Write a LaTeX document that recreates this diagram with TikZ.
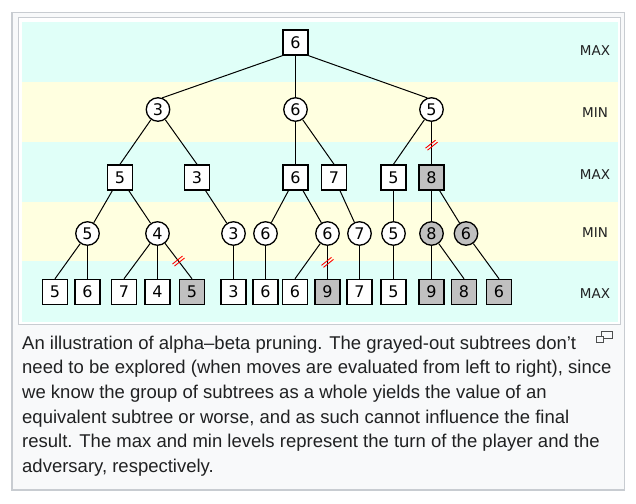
\documentclass[tikz,border=0pt]{standalone}
\usepackage{fontspec}
\usepackage{xcolor}
\usepackage{tikz}
\usetikzlibrary{positioning}
\newfontfamily\treefont{DejaVu Sans}
\newfontfamily\notefont{Liberation Sans}
\definecolor{bandcyan}{HTML}{E0FFF8}
\definecolor{bandyellow}{HTML}{FFFFE0}
\definecolor{prunegray}{HTML}{C0C0C0}
\definecolor{frameline}{HTML}{C8CCD1}
\definecolor{framefill}{HTML}{F8F9FA}
\definecolor{notetext}{HTML}{202122}
\tikzset{
  prunepicture/.style={x=1pt, y=-1pt},
  prunemax/.style={draw, line width=1.3pt, fill=white, minimum size=25.2pt, inner sep=0pt, font=\treefont\fontsize{16}{16}\selectfont},
  prunemin/.style={circle, draw, line width=1.3pt, fill=white, minimum size=23.5pt, inner sep=0pt, font=\treefont\fontsize{16}{16}\selectfont},
  prunemaxoff/.style={prunemax, fill=prunegray},
  pruneminoff/.style={prunemin, fill=prunegray},
  prunelevel/.style={inner sep=0pt, text=notetext, font=\treefont\fontsize{13.5}{13.5}\selectfont},
  prunelink/.style={line width=1pt},
  prunenote/.style={anchor=base west, inner sep=0pt, text=notetext, font=\notefont\fontsize{18.5}{24.7}\selectfont},
  prunecut/.pic={\draw[red, line width=0.9pt] (-6,3) -- (4,-5) (-4,5) -- (6,-3);}
}

\begin{document}
\begin{tikzpicture}[prunepicture]
\useasboundingbox (0,0) rectangle (636,503);
% frame and level bands
\draw[frameline, fill=framefill, line width=1.2pt] (12,12.5) rectangle (624.5,490);
\draw[frameline, fill=white, line width=1pt] (18,18) rectangle (620,324);
\fill[bandcyan] (22,22) rectangle (618,82);
\fill[bandyellow] (22,82) rectangle (618,142);
\fill[bandcyan] (22,142) rectangle (618,202);
\fill[bandyellow] (22,202) rectangle (618,261);
\fill[bandcyan] (22,261) rectangle (618,322);

% level labels
\node[prunelevel] (lev0) at (595,51) {MAX};
\node[prunelevel] (lev1) at (595,113) {MIN};
\node[prunelevel] (lev2) at (595,175) {MAX};
\node[prunelevel] (lev3) at (595,233) {MIN};
\node[prunelevel] (lev4) at (595,294) {MAX};

% tree
\node[prunemax] (n0) at (295.5,42.5) {6};

\node[prunemin] (n1a) at (158,109.5) {3};
\node[prunemin] (n1b) at (295.5,109.5) {6};
\node[prunemin] (n1c) at (431.5,109.5) {5};

\node[prunemax] (n2a) at (120,177.5) {5};
\node[prunemax] (n2b) at (197,177.5) {3};
\node[prunemax] (n2c) at (295.5,177.5) {6};
\node[prunemax] (n2d) at (334,177.5) {7};
\node[prunemax] (n2e) at (393.5,177.5) {5};
\node[prunemaxoff] (n2f) at (431.5,177.5) {8};

\node[prunemin] (n3a) at (87.5,233.5) {5};
\node[prunemin] (n3b) at (157.5,233.5) {4};
\node[prunemin] (n3c) at (233.5,233.5) {3};
\node[prunemin] (n3d) at (265.5,233.5) {6};
\node[prunemin] (n3e) at (327.5,233.5) {6};
\node[prunemin] (n3f) at (359.5,233.5) {7};
\node[prunemin] (n3g) at (393.5,233.5) {5};
\node[pruneminoff] (n3h) at (431.5,233.5) {8};
\node[pruneminoff] (n3i) at (466,233.5) {6};

\node[prunemax] (n4a) at (55,292) {5};
\node[prunemax] (n4b) at (87.5,292) {6};
\node[prunemax] (n4c) at (124,292) {7};
\node[prunemax] (n4d) at (157.5,292) {4};
\node[prunemaxoff] (n4e) at (192,292) {5};
\node[prunemax] (n4f) at (233.5,292) {3};
\node[prunemax] (n4g) at (265.5,292) {6};
\node[prunemax] (n4h) at (295,292) {6};
\node[prunemaxoff] (n4i) at (327.5,292) {9};
\node[prunemax] (n4j) at (359.5,292) {7};
\node[prunemax] (n4k) at (393.5,292) {5};
\node[prunemaxoff] (n4l) at (431.5,292) {9};
\node[prunemaxoff] (n4m) at (464,292) {8};
\node[prunemaxoff] (n4n) at (499,292) {6};

\draw[prunelink] (n0.south west) -- (n1a.70);
\draw[prunelink] (n0) -- (n1b);
\draw[prunelink] (n0.south east) -- (n1c.110);

\draw[prunelink] (n1a) -- (n2a.north);
\draw[prunelink] (n1a) -- (n2b.north);
\draw[prunelink] (n1b) -- (n2c.north);
\draw[prunelink] (n1b) -- (n2d.north);
\draw[prunelink] (n1c) -- (n2e.north);
\draw[prunelink] (n1c) -- coordinate[pos=0.55] (cut1) (n2f.north);

\draw[prunelink] (n2a) -- (n3a);
\draw[prunelink] (n2a) -- (n3b);
\draw[prunelink] (n2b) -- (n3c);
\draw[prunelink] (n2c) -- (n3d);
\draw[prunelink] (n2c) -- (n3e);
\draw[prunelink] (n2d) -- (n3f);
\draw[prunelink] (n2e) -- (n3g);
\draw[prunelink] (n2f) -- (n3h);
\draw[prunelink] (n2f) -- (n3i);

\draw[prunelink] (n3a) -- (n4a.north);
\draw[prunelink] (n3a) -- (n4b.north);
\draw[prunelink] (n3b) -- (n4c.north);
\draw[prunelink] (n3b) -- (n4d.north);
\draw[prunelink] (n3b) -- coordinate[pos=0.5] (cut2) (n4e.north);
\draw[prunelink] (n3c) -- (n4f.north);
\draw[prunelink] (n3d) -- (n4g.north);
\draw[prunelink] (n3e) -- (n4h.north);
\draw[prunelink] (n3e) -- coordinate[pos=0.5] (cut3) (n4i.north);
\draw[prunelink] (n3f) -- (n4j.north);
\draw[prunelink] (n3g) -- (n4k.north);
\draw[prunelink] (n3h) -- (n4l.north);
\draw[prunelink] (n3h) -- (n4m.north);
\draw[prunelink] (n3i) -- (n4n.north);

% pruned branches
\pic at (cut1) {prunecut};
\pic at (cut2) {prunecut};
\pic at (cut3) {prunecut};

% caption
\node[prunenote] (note1) at (22,349.3) {An illustration of alpha–beta pruning. The grayed-out subtrees don’t};
\node[prunenote] (note2) at (22,373.3) {need to be explored (when moves are evaluated from left to right), since};
\node[prunenote] (note3) at (22,398.3) {we know the group of subtrees as a whole yields the value of an};
\node[prunenote] (note4) at (22,423.3) {equivalent subtree or worse, and as such cannot influence the final};
\node[prunenote] (note5) at (22,447.7) {result. The max and min levels represent the turn of the player and the};
\node[prunenote] (note6) at (22,472.7) {adversary, respectively.};
\draw[notetext!80, line width=0.9pt] (601.5,331.5) rectangle (612.5,338.5);
\draw[notetext!80, fill=framefill, line width=0.9pt] (596.5,336.5) rectangle (603.5,342.5);
\end{tikzpicture}
\end{document}
